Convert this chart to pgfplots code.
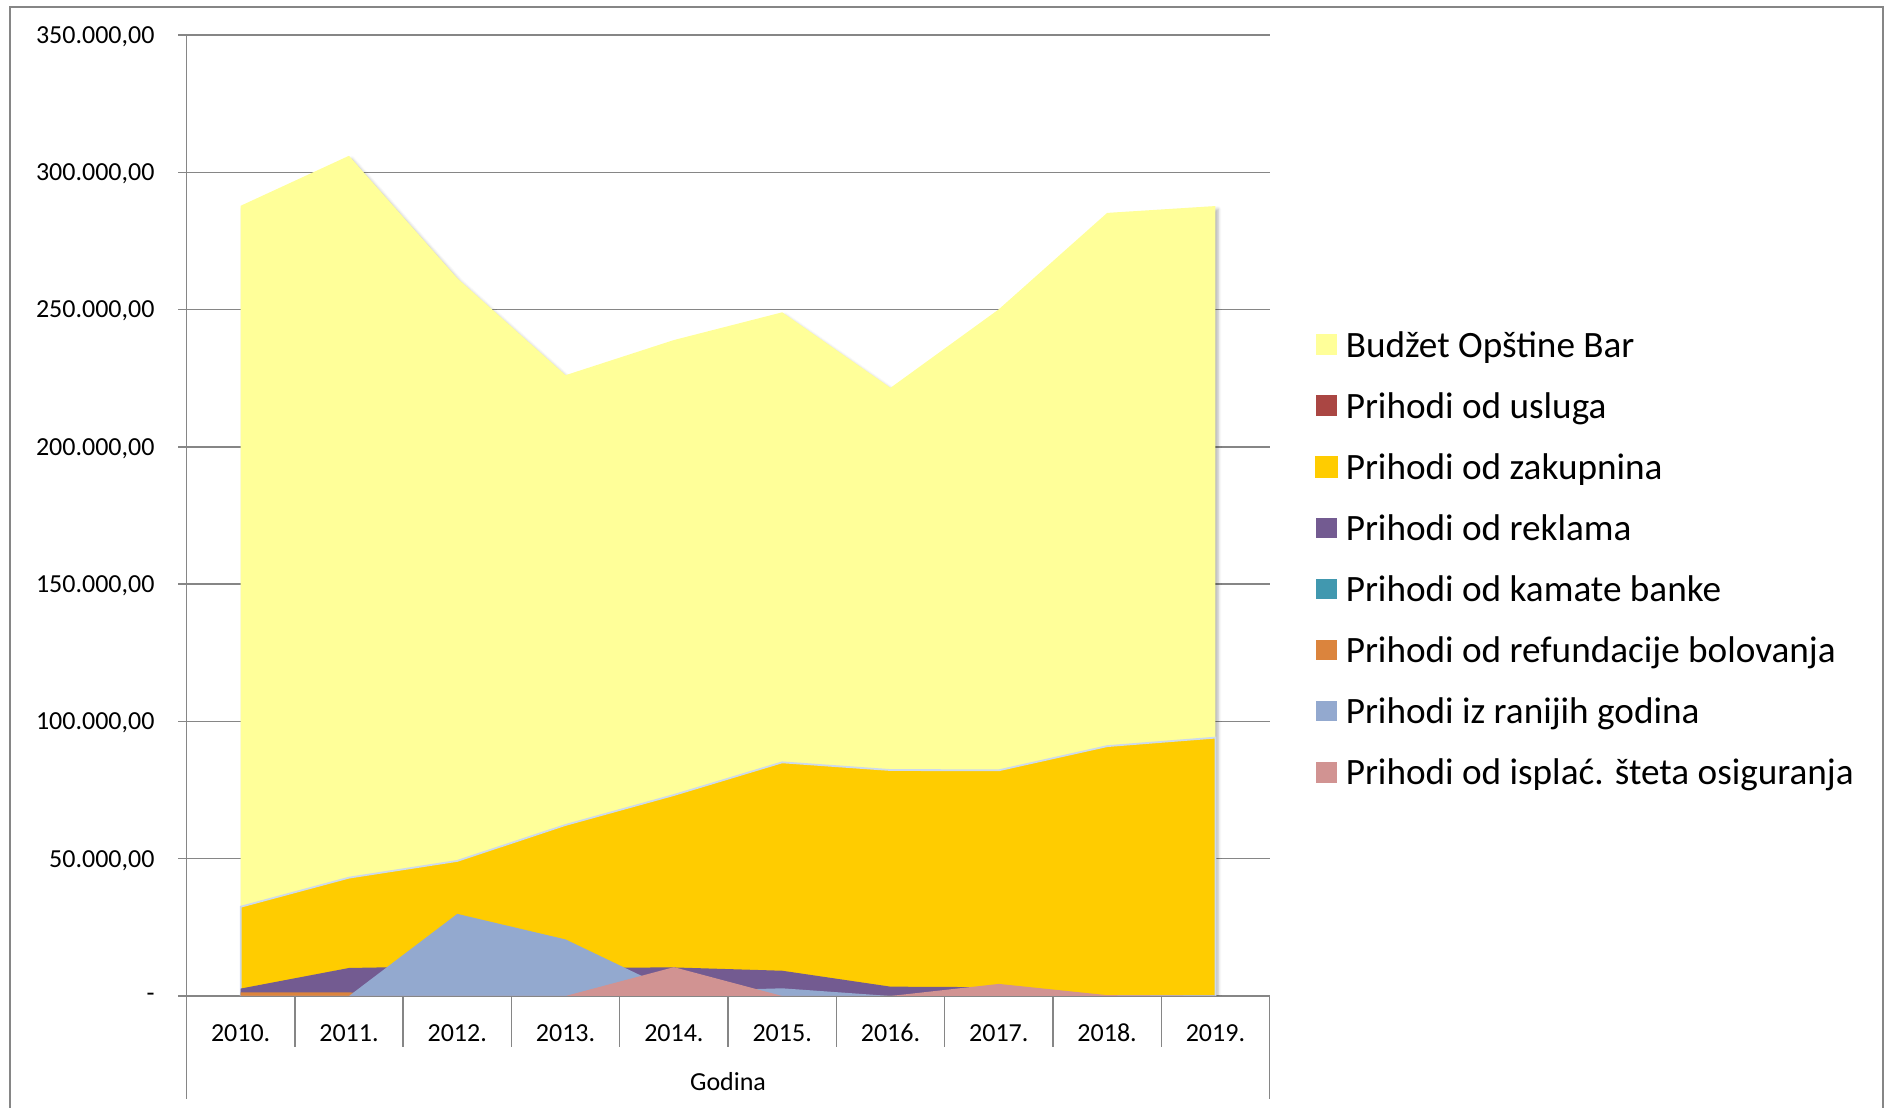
\documentclass[border=0pt]{standalone}
\usepackage{pgfplots}
\pgfplotsset{compat=1.18}
\usepackage{pgfplotstable}
\usepackage{fontspec}
\setmainfont{Carlito}
\usetikzlibrary{shadows.blur}

\definecolor{gridgray}{RGB}{134,134,134}
\definecolor{cBud}{RGB}{255,255,153}
\definecolor{cUsl}{RGB}{170,70,67}
\definecolor{cZak}{RGB}{255,204,0}
\definecolor{cRek}{RGB}{115,91,145}
\definecolor{cKam}{RGB}{65,152,175}
\definecolor{cRef}{RGB}{219,132,61}
\definecolor{cRan}{RGB}{147,169,207}
\definecolor{cOsi}{RGB}{209,147,146}
\definecolor{cEdge}{RGB}{205,218,236}

\pgfplotstableread{
x budzet usluga zakup reklama kamate refund ranije osig
0 287800 1500 32500 2700 0 1300 0 0
1 306000 1500 43100 10200 0 1300 0 0
2 261400 1500 49200 10900 0 0 29900 0
3 226100 1500 62300 10300 0 0 20600 0
4 238900 1500 73200 10400 0 0 1700 10500
5 249000 1500 85100 9200 0 0 2800 0
6 221500 1500 82300 3400 0 0 0 0
7 250100 1500 82200 3200 0 0 0 4400
8 285200 1500 91000 0 0 0 0 300
9 287700 1500 94100 0 0 0 0 0
}\data

\begin{document}
\begin{tikzpicture}[font=\fontsize{13}{15.6}\selectfont]
\path[use as bounding box] (-93.25pt,-56pt) rectangle (850.25pt,498pt);
\draw[gridgray, line width=0.7pt] (-88.25pt,-56pt) -- (-88.25pt,494.5pt) -- (848.25pt,494.5pt) -- (848.25pt,-56pt);
\begin{axis}[
  at={(0,0)}, anchor=south west, scale only axis,
  width=541.55pt, height=480.5pt,
  xmin=-0.5, xmax=9.5, ymin=0, ymax=350000,
  axis lines=left,
  axis line style={-, draw=gridgray, line width=0.7pt},
  ymajorgrids, grid style={gridgray, line width=0.7pt},
  tick align=outside, major tick length=4pt,
  scaled y ticks=false,
  ytick={0,50000,100000,150000,200000,250000,300000,350000},
  yticklabels={{-\hspace{5.5pt}},{50.000,00},{100.000,00},{150.000,00},{200.000,00},{250.000,00},{300.000,00},{350.000,00}},
  ytick style={gridgray, line width=0.7pt},
  yticklabel style={anchor=east, inner sep=0pt, xshift=-11.8pt, yshift=-0.8pt},
  xtick={0,...,9},
  xticklabels={2010.,2011.,2012.,2013.,2014.,2015.,2016.,2017.,2018.,2019.},
  xtick style={draw=none},
  xticklabel style={anchor=center, inner sep=0pt, yshift=-14.6pt},
  xlabel={Godina},
  xlabel style={at={(axis description cs:0.5,0)}, anchor=center, inner sep=0pt, yshift=-42.75pt},
  legend style={at={(axis description cs:1.0419,0.6921)}, anchor=north west, draw=none, fill=none, inner sep=0pt,
    font=\fontsize{18.6}{22}\selectfont, row sep=13.55pt,
    nodes={inner sep=0pt, text height=13pt, text depth=4pt},
    /tikz/every odd column/.append style={column sep=4pt}},
  legend cell align=left,
  legend image code/.code={\fill[#1] (0pt,-3.3pt) rectangle (10.3pt,7pt);},
]
\addplot[forget plot, draw=none, fill=none,
  blur shadow={shadow xshift=1.3pt, shadow yshift=-1.6pt, shadow blur radius=1.6pt, shadow opacity=30}]
  table[x=x, y=budzet] {\data} \closedcycle;
\addplot[fill=cBud, draw=none] table[x=x, y=budzet] {\data} \closedcycle;
\addlegendentry{Budžet Opštine Bar}
\addplot[fill=cUsl, draw=none] table[x=x, y=usluga] {\data} \closedcycle;
\addlegendentry{Prihodi od usluga}
\addplot[fill=cZak, draw=cEdge, line width=0.9pt,
  legend image code/.code={\fill[cZak] (0pt,-3.3pt) rectangle (10.3pt,7pt);}]
  table[x=x, y=zakup] {\data} \closedcycle;
\addlegendentry{Prihodi od zakupnina}
\addplot[fill=cRek, draw=none] table[x=x, y=reklama] {\data} \closedcycle;
\addlegendentry{Prihodi od reklama}
\addplot[fill=cKam, draw=none] table[x=x, y=kamate] {\data} \closedcycle;
\addlegendentry{Prihodi od kamate banke}
\addplot[fill=cRef, draw=none] table[x=x, y=refund] {\data} \closedcycle;
\addlegendentry{Prihodi od refundacije bolovanja}
\addplot[fill=cRan, draw=none] table[x=x, y=ranije] {\data} \closedcycle;
\addlegendentry{Prihodi iz ranijih godina}
\addplot[fill=cOsi, draw=none] table[x=x, y=osig] {\data} \closedcycle;
\addlegendentry{Prihodi od isplać. šteta osiguranja}
\end{axis}
\foreach \i in {1,...,9} {
  \draw[gridgray, line width=0.7pt] (\i*54.155pt,0pt) -- (\i*54.155pt,-25.5pt);
}
\draw[gridgray, line width=0.7pt] (0pt,0pt) -- (0pt,-51.5pt);
\draw[gridgray, line width=0.7pt] (541.55pt,0pt) -- (541.55pt,-51.5pt);
\end{tikzpicture}
\end{document}
